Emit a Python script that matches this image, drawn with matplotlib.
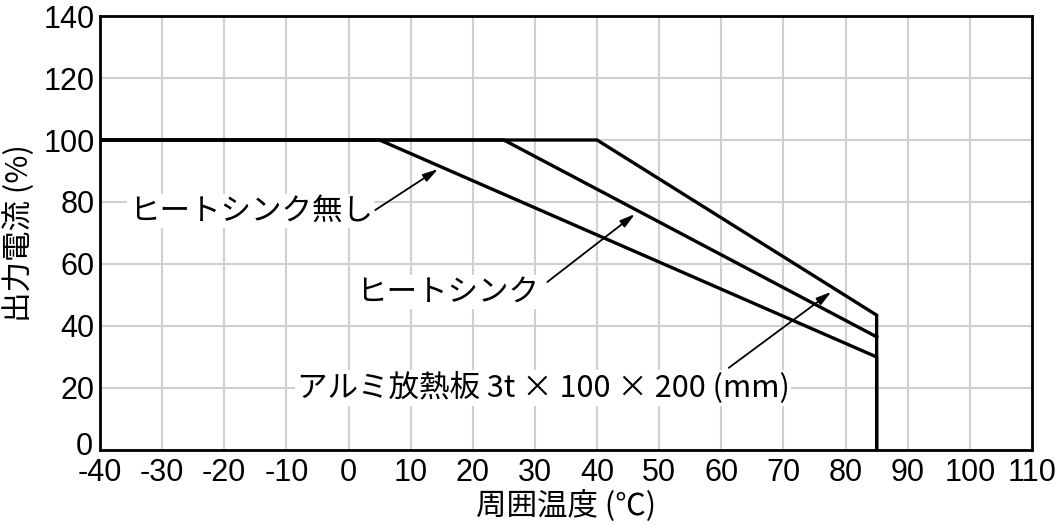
import matplotlib
matplotlib.use("Agg")
import matplotlib.pyplot as plt
import matplotlib.transforms as mtransforms

plt.rcParams['font.family'] = ['Noto Sans CJK JP', 'DejaVu Sans']
plt.rcParams['axes.unicode_minus'] = False

# Data
temp_no_sink = [-40, 5, 85, 85]
curr_no_sink = [100, 100, 30, 0]
temp_sink = [-40, 25, 85]
curr_sink = [100, 100, 36.5]
temp_alu = [-40, 40, 85, 85]
curr_alu = [100, 100, 43.5, 0]

x_ticks = list(range(-40, 111, 10))
y_ticks = list(range(0, 141, 20))

labels = ["ヒートシンク無し", "ヒートシンク", "アルミ放熱板 3t × 100 × 200 (mm)"]
label_pos = [(-15.7, 77), (16, 51), (31.3, 20)]
arrow_tail = [(4.3, 77.4), (32, 54.2), (61.2, 26.5)]
arrow_head = [(14.4, 90.6), (46.1, 76.1), (77.7, 51)]

fig = plt.figure(figsize=(10.58, 5.25), dpi=100)
ax = fig.add_axes([0.0945, 0.1429, 0.9754 - 0.0945, 0.9695 - 0.1429])

ax.set_xlim(-40, 110)
ax.set_ylim(0, 140)
ax.set_xticks(x_ticks)
ax.set_yticks(y_ticks)
ax.grid(True, color='#d0d0d0', linewidth=1.5, zorder=0)
ax.tick_params(axis='x', length=0, labelsize=22, pad=6)
ax.tick_params(axis='y', length=0, labelsize=22, pad=4)
for lab in ax.get_xticklabels() + ax.get_yticklabels():
    lab.set_fontfamily(['Liberation Sans', 'DejaVu Sans'])
# nudge the bottom y label up slightly, as in the reference
y0lab = ax.get_yticklabels()[0]
y0lab.set_transform(y0lab.get_transform() +
                    mtransforms.ScaledTranslation(-2 / 100, 6 / 100, fig.dpi_scale_trans))
for s in ax.spines.values():
    s.set_linewidth(2)
    s.set_color('black')

lw = 2.4
ax.plot(temp_no_sink, curr_no_sink, color='black', lw=lw, zorder=3, solid_joinstyle='miter')
ax.plot(temp_sink, curr_sink, color='black', lw=lw, zorder=3, solid_joinstyle='miter')
ax.plot(temp_alu, curr_alu, color='black', lw=lw, zorder=3, solid_joinstyle='miter')

for lab, (tx, ty) in zip(labels, label_pos):
    ax.text(tx, ty, lab, fontsize=22, ha='center', va='center', zorder=2,
            bbox=dict(facecolor='white', edgecolor='none', pad=1))

for (x0, y0), (x1, y1) in zip(arrow_tail, arrow_head):
    ax.annotate('', xy=(x1, y1), xytext=(x0, y0), zorder=4,
                arrowprops=dict(arrowstyle='-|>,head_length=0.9,head_width=0.25',
                                color='black', lw=1.3, shrinkA=0, shrinkB=0))

ax.set_xlabel('周囲温度 (℃)', fontsize=22, labelpad=1)
ax.set_ylabel('出力電流 (%)', fontsize=22, labelpad=6)

fig.savefig('out.png', dpi=100)
